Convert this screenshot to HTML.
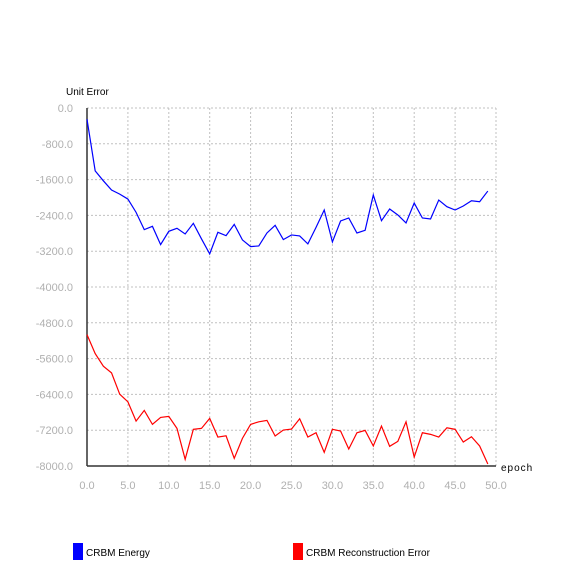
<!DOCTYPE html>
<html><head><meta charset="utf-8"><style>
body{margin:0;background:#fff;width:584px;height:561px;overflow:hidden;font-family:"Liberation Sans",sans-serif}
</style></head><body>
<svg width="584" height="561" id="chart" xmlns="http://www.w3.org/2000/svg"></svg>
<script>
const epochs=[...Array(50).keys()];
const energy=[-252,-1404,-1627,-1834,-1924,-2035,-2332,-2718,-2644,-3053,-2755,-2688,-2815,-2577,-2926,-3260,-2777,-2852,-2600,-2948,-3097,-3082,-2793,-2622,-2941,-2837,-2859,-3037,-2667,-2280,-2993,-2525,-2458,-2793,-2733,-1945,-2518,-2257,-2391,-2569,-2124,-2458,-2481,-2057,-2206,-2280,-2190,-2072,-2094,-1856];
const recon=[-5064,-5488,-5771,-5920,-6395,-6566,-6996,-6758,-7070,-6914,-6892,-7159,-7850,-7181,-7159,-6936,-7353,-7324,-7828,-7382,-7070,-7012,-6981,-7330,-7197,-7175,-6945,-7353,-7257,-7694,-7181,-7219,-7620,-7257,-7204,-7553,-7108,-7560,-7449,-7012,-7799,-7257,-7293,-7353,-7145,-7181,-7464,-7346,-7553,-7955];
const yTicks=[0,-800,-1600,-2400,-3200,-4000,-4800,-5600,-6400,-7200,-8000];
const xTicks=[0,5,10,15,20,25,30,35,40,45,50];
const X0=87,X1=496,Y0=108,Y1=466;
const sx=v=>X0+(v/50)*(X1-X0);
const sy=v=>Y0+(v/-8000)*(Y1-Y0);
const svg=document.getElementById('chart');
const NS='http://www.w3.org/2000/svg';
function mk(t,a){const e=document.createElementNS(NS,t);for(const k in a)e.setAttribute(k,a[k]);svg.appendChild(e);return e;}
yTicks.forEach(v=>{
 const g=mk('line',{x1:X0,x2:X1,y1:sy(v),y2:sy(v),stroke:'#c0c0c0','stroke-dasharray':'2,2'});
 
 
 const t=mk('text',{x:X0-14,y:sy(v)+4,'text-anchor':'end','font-size':'11',fill:'#b0b0b0'});
 t.textContent=v.toFixed(1);
 
 
});
xTicks.forEach(v=>{
 const g=mk('line',{x1:sx(v),x2:sx(v),y1:Y0,y2:Y1,stroke:'#c0c0c0','stroke-dasharray':'2,2'});
 
 
 const t=mk('text',{x:sx(v),y:Y1+23,'text-anchor':'middle','font-size':'11',fill:'#b0b0b0'});
 t.textContent=v.toFixed(1);
 
 
});
const ya=mk('line',{x1:X0,x2:X0,y1:Y0,y2:Y1,stroke:'#333','stroke-width':1.5});


const xa=mk('line',{x1:X0,x2:X1,y1:Y1,y2:Y1,stroke:'#333','stroke-width':1.5});


function line(data,color,name){
 const p=mk('polyline',{points:data.map((v,i)=>sx(epochs[i])+','+sy(v)).join(' '),fill:'none',stroke:color,'stroke-width':1.2});
 
 
}
line(energy,'#0000ff','energy-line');
line(recon,'#ff0000','reconstruction-error-line');
const yt=mk('text',{x:66,y:95,'font-size':'10',fill:'#000'});yt.textContent='Unit Error';


const xt=mk('text',{x:501,y:471,'font-size':'10',fill:'#000','letter-spacing':'1'});xt.textContent='epoch';


[[73,'#0000ff','CRBM Energy','legend-energy'],[293,'#ff0000','CRBM Reconstruction Error','legend-reconstruction-error']].forEach(([x,c,l,n])=>{
 const r=mk('rect',{x:x,y:543,width:10,height:17,fill:c});
 
 
 const t=mk('text',{x:x+13,y:556,'font-size':'10',fill:'#000'});t.textContent=l;
 
 
});
</script>
</body></html>
